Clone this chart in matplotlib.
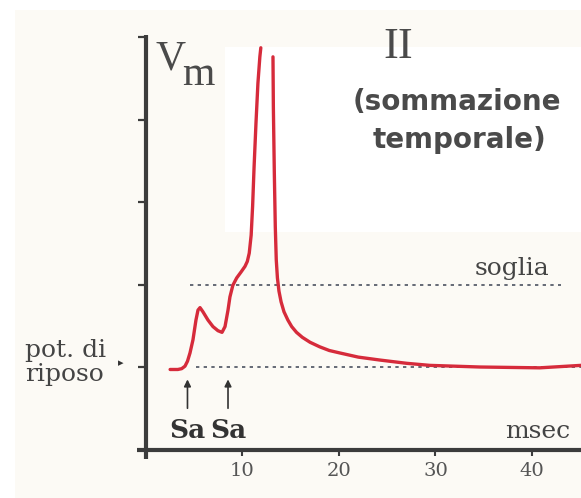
import numpy as np
import matplotlib
matplotlib.use("Agg")
import matplotlib.pyplot as plt
from matplotlib.patches import Rectangle

# membrane potential trace (units: rest = 0, threshold = 1), time in msec
t_ms = [2.5, 3.3, 3.7, 4.04, 4.3, 4.56, 4.87, 5.18, 5.39, 5.6, 5.9, 6.42, 6.94, 7.46, 7.88,
        8.19, 8.5, 8.7, 9.0, 9.4, 9.84, 10.26, 10.5, 10.7, 10.9, 11.05, 11.2, 11.4, 11.6,
        11.8, 11.9, 12.5, 13.16, 13.2, 13.3, 13.4, 13.5, 13.62, 13.78, 14.0, 14.3, 14.7,
        15.1, 15.6, 16.2, 17.0, 18.0, 19.0, 20.1, 22.0, 24.2, 27.0, 29.4, 34.6, 40.8, 45.08]
vm = [-0.03, -0.03, -0.02, 0.01, 0.07, 0.17, 0.33, 0.57, 0.69, 0.72, 0.67, 0.57, 0.49,
      0.44, 0.42, 0.49, 0.69, 0.85, 0.99, 1.08, 1.15, 1.22, 1.28, 1.38, 1.6, 1.95, 2.42,
      2.96, 3.44, 3.76, 3.87, np.nan, 3.76, 3.15, 2.35, 1.7, 1.3, 1.08, 0.92, 0.79, 0.67,
      0.57, 0.49, 0.42, 0.36, 0.30, 0.245, 0.2, 0.17, 0.12, 0.085, 0.045, 0.02, 0.0,
      -0.01, 0.02]

rest = 0.0
soglia = 1.0
stimuli = [4.3, 8.5]
x_ticks = [10, 20, 30, 40]
y_ticks = [0, 1, 2, 3, 4]

W, H = 581, 498
fig = plt.figure(figsize=(W / 100, H / 100), dpi=100, facecolor="#fcfaf5")


def fx(px):
    return px / W


def fy(py):
    return 1 - py / H


# white-out patches on the page
for x0, y0, x1, y1 in [(0, 0, 15, H), (0, 0, W, 10), (225, 47, W, 232)]:
    fig.add_artist(Rectangle((fx(x0), fy(y1)), fx(x1) - fx(x0), fy(y0) - fy(y1),
                             transform=fig.transFigure, facecolor="white",
                             edgecolor="none", zorder=-5))

ax = fig.add_axes([fx(137.3), fy(459.4), 1 - fx(137.3), (459.4 - 35.4) / H])
ax.set_facecolor("none")
ax.set_xlim(-0.9, 45.08)
ax.set_ylim(-1.12, 4.02)

axis_col = "#3c3c3c"
for side in ["top", "right"]:
    ax.spines[side].set_visible(False)
ax.spines["left"].set_position(("data", 0))
ax.spines["bottom"].set_position(("data", -1))
for side in ["left", "bottom"]:
    ax.spines[side].set_linewidth(3)
    ax.spines[side].set_color(axis_col)
    ax.spines[side].set_capstyle("butt")

ax.set_yticks(y_ticks)
ax.set_yticklabels([])
ax.tick_params(axis="y", direction="out", length=6, width=1.6, color=axis_col)
ax.set_xticks(x_ticks)
ax.set_xticklabels([str(v) for v in x_ticks], fontfamily="DejaVu Serif",
                   fontsize=14, color="#555555")
ax.tick_params(axis="x", direction="out", length=4, width=1.5, color=axis_col, pad=5)

# resting level and threshold
ax.plot([5.2, 45.08], [rest, rest], color="#4b5160", lw=1.2, ls=(0, (2, 2.6)), zorder=2)
ax.plot([4.6, 43.0], [soglia, soglia], color="#4b5160", lw=1.2, ls=(0, (2, 2.6)), zorder=2)

ax.plot(t_ms, vm, color="#d62b3b", lw=2.4, solid_joinstyle="round",
        solid_capstyle="round", zorder=3, clip_on=False)

# stimulus arrows
for s in stimuli:
    ax.annotate("", xy=(s, -0.15), xytext=(s, -0.5),
                arrowprops=dict(arrowstyle="-|>", color="#333333", lw=1.2,
                                mutation_scale=10, shrinkA=0, shrinkB=0))
    ax.text(s, -0.86, "Sa", ha="center", va="baseline", fontfamily="DejaVu Serif",
            fontweight="bold", fontsize=19, color="#333333")

ax.text(37.9, 1.12, "soglia", ha="center", va="baseline", fontfamily="DejaVu Serif",
        fontsize=18, color="#444444")
ax.text(40.6, -0.86, "msec", ha="center", va="baseline", fontfamily="DejaVu Serif",
        fontsize=18, color="#444444")

# labels outside the axes
fig.text(fx(155), fy(70), "V", fontfamily="Liberation Serif", fontsize=30,
         color="#4a4a4a", va="baseline")
fig.text(fx(182), fy(85), "m", fontfamily="Liberation Serif", fontsize=30,
         color="#4a4a4a", va="baseline")
fig.text(fx(25), fy(357), "pot. di", fontfamily="DejaVu Serif", fontsize=18,
         color="#444444", va="baseline")
fig.text(fx(25), fy(381), "riposo", fontfamily="DejaVu Serif", fontsize=18,
         color="#444444", va="baseline")
fig.text(fx(118), fy(366), "\u25b8", fontfamily="DejaVu Sans", fontsize=8,
         color="#333333", va="baseline")

fig.text(fx(398), fy(58), "II", fontfamily="Liberation Serif", fontsize=32,
         color="#4a4a4a", ha="center", va="baseline")
fig.text(fx(457), fy(110), "(sommazione", fontfamily="DejaVu Sans", fontweight="bold",
         fontsize=20, color="#4a4a4a", ha="center", va="baseline")
fig.text(fx(460), fy(148), "temporale)", fontfamily="DejaVu Sans", fontweight="bold",
         fontsize=20, color="#4a4a4a", ha="center", va="baseline")

fig.savefig("out.png", dpi=100, facecolor=fig.get_facecolor())
